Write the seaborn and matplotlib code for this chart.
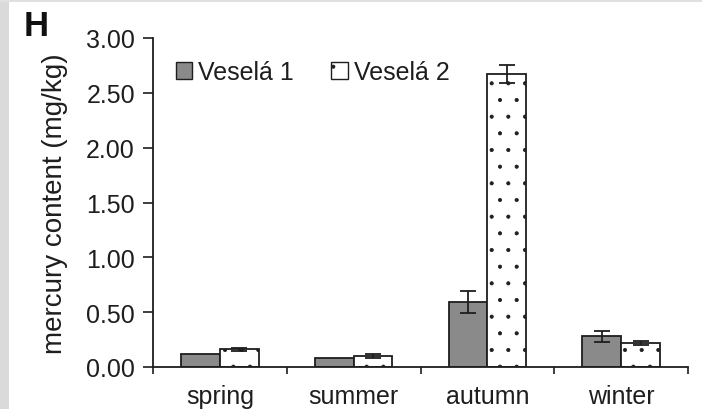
import matplotlib
matplotlib.use("Agg")
import matplotlib.pyplot as plt
from matplotlib.patches import Patch, Rectangle
from matplotlib.ticker import FixedLocator
import numpy as np
import pandas as pd
import seaborn as sns

# Mean mercury content per season for the two sites, with standard errors
seasons = ["spring", "summer", "autumn", "winter"]
sites = ["Veselá 1", "Veselá 2"]
vesela1_mean = [0.12, 0.08, 0.59, 0.28]
vesela2_mean = [0.16, 0.10, 2.67, 0.22]
vesela1_err = [0.00, 0.00, 0.10, 0.05]
vesela2_err = [0.01, 0.02, 0.08, 0.02]
y_ticks = [0.0, 0.5, 1.0, 1.5, 2.0, 2.5, 3.0]

df = pd.DataFrame({
    "season": seasons * 2,
    "site": [sites[0]] * 4 + [sites[1]] * 4,
    "hg": vesela1_mean + vesela2_mean,
    "err": vesela1_err + vesela2_err,
})

sns.set_theme(style="white")
plt.rcParams["font.family"] = ["Liberation Sans", "DejaVu Sans"]
plt.rcParams["hatch.color"] = "#7a7a7a"
plt.rcParams["hatch.linewidth"] = 0.5

ink = "#1e1e1e"
fs = 18
fig = plt.figure(figsize=(7.02, 4.10), dpi=100)

# soft grey margin along the left and top edges of the page
fig.patches.append(Rectangle((0, 0), 9 / 702, 1, transform=fig.transFigure,
                             facecolor="#dadada", edgecolor="none", zorder=0))
fig.patches.append(Rectangle((0, 1 - 3 / 410), 1, 3 / 410,
                             transform=fig.transFigure, facecolor="#e0e0e0",
                             edgecolor="none", zorder=0))

ax = fig.add_axes([153 / 702, 1 - 368 / 410, (688 - 153) / 702, (368 - 39) / 410])

sns.barplot(data=df, x="season", y="hg", hue="site", order=seasons,
            hue_order=sites, palette=["#8a8a8a", "#ffffff"], width=0.58,
            errorbar=None, edgecolor=ink, linewidth=1.3, legend=False, ax=ax)

# Dotted fill for the second site, then error bars at each bar's top
bars = [p for p in ax.patches if p.get_height() > 0]
for i, p in enumerate(bars):
    if i >= len(seasons):
        p.set_hatch(".")
errs = vesela1_err + vesela2_err
for p, e in zip(bars, errs):
    if e > 0:
        ax.errorbar(p.get_x() + p.get_width() / 2, p.get_height(), yerr=e,
                    fmt="none", ecolor=ink, elinewidth=1.3, capsize=6,
                    capthick=1.3, zorder=5)

ax.set_xlim(-0.5, 3.5)
ax.set_ylim(0, 3.0)
ax.set_yticks(y_ticks)
ax.set_yticklabels([f"{t:.2f}" for t in y_ticks])
ax.set_xlabel("")
ax.set_ylabel("mercury content (mg/kg)", fontsize=20, color=ink, labelpad=13)

ax.xaxis.set_minor_locator(FixedLocator([-0.5, 0.5, 1.5, 2.5, 3.5]))
ax.tick_params(axis="x", which="major", length=0, labelsize=fs,
               labelcolor=ink, pad=12)
ax.tick_params(axis="x", which="minor", bottom=True, length=5, width=1.2,
               color=ink, direction="out")
ax.tick_params(axis="y", left=True, length=7, width=1.2, color=ink,
               labelsize=fs, labelcolor=ink, pad=6)

for side in ["top", "right"]:
    ax.spines[side].set_visible(False)
for side in ["left", "bottom"]:
    ax.spines[side].set_color(ink)
    ax.spines[side].set_linewidth(1.3)

handles = [Patch(facecolor="#8a8a8a", edgecolor=ink, linewidth=1.0),
           Patch(facecolor="white", edgecolor=ink, linewidth=1.0, hatch=".")]
ax.legend(handles, sites, loc="upper left", bbox_to_anchor=(0.0, 1.0),
          ncol=2, frameon=False, fontsize=fs, handlelength=0.65,
          handleheight=0.65, handletextpad=0.25, columnspacing=1.5,
          labelcolor=ink)

fig.text(24 / 702, 1 - 10 / 410, "H", fontsize=25, fontweight="bold",
         color="#111111", va="top", ha="left")

fig.savefig("out.png", dpi=100)
